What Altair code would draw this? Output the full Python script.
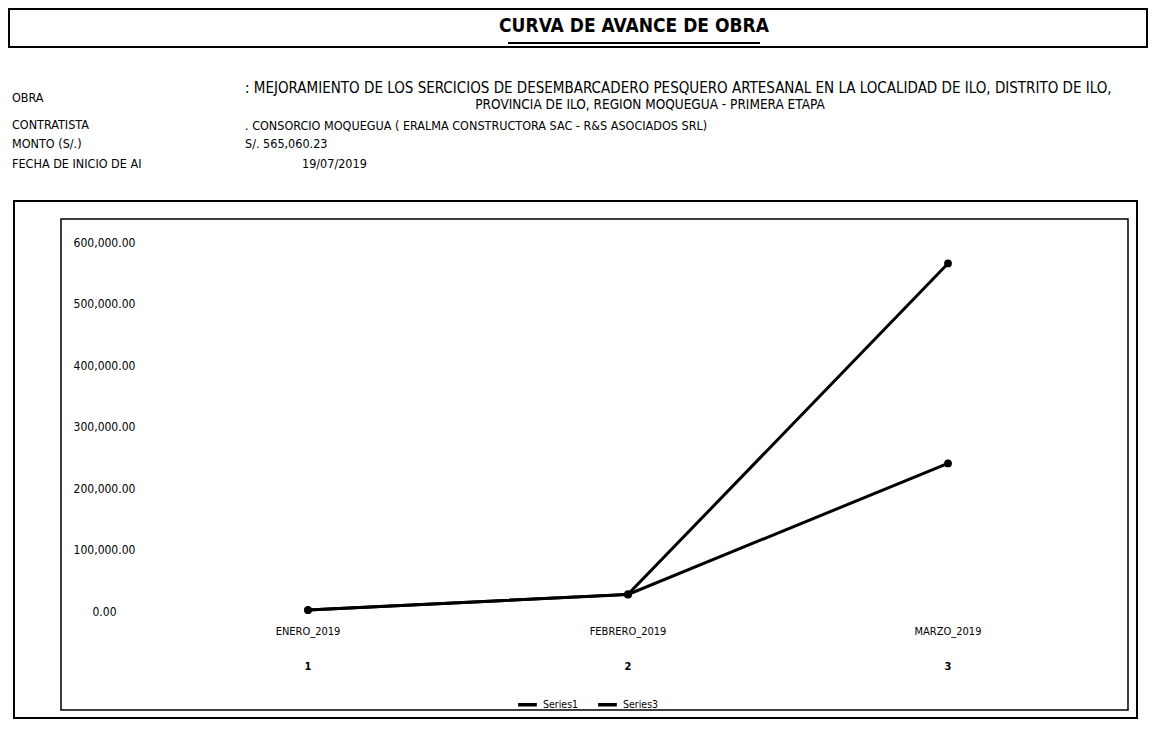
import altair as alt
import pandas as pd

# ---- data ----
meses = ["ENERO_2019", "FEBRERO_2019", "MARZO_2019"]
numeros = ["1", "2", "3"]
series1 = [1500, 27000, 565060.23]
series3 = [1500, 27000, 240000]
serie_names = ["Series1", "Series3"]
y_ticks = [0, 100000, 200000, 300000, 400000, 500000, 600000]

titulo = "CURVA DE AVANCE DE OBRA"
head_labels = ["OBRA", "CONTRATISTA", "MONTO (S/.)", "FECHA DE INICIO DE AI"]
obra_1 = ": MEJORAMIENTO DE LOS SERCICIOS DE DESEMBARCADERO PESQUERO ARTESANAL EN LA LOCALIDAD DE ILO, DISTRITO DE ILO,"
obra_2 = "PROVINCIA DE ILO, REGION MOQUEGUA - PRIMERA ETAPA"
contratista = ". CONSORCIO MOQUEGUA ( ERALMA CONSTRUCTORA SAC - R&S ASOCIADOS SRL)"
monto = "S/. 565,060.23"
fecha = "19/07/2019"

FONT = "Liberation Sans Narrow, DejaVu Sans Condensed, Roboto, sans-serif"
W, H = 960, 369

rows = []
for name, vals in zip(serie_names, [series1, series3]):
    for m, v in zip(meses, vals):
        rows.append({"mes": m, "valor": v, "serie": name})
df = pd.DataFrame(rows)
lab = pd.DataFrame({"mes": meses, "num": numeros})
one = pd.DataFrame({"a": [0]})

xenc = alt.X("mes:N", sort=meses, scale=alt.Scale(type="point", padding=0.5),
             axis=None)

lines = alt.Chart(df).mark_line(
    strokeWidth=3, point=alt.OverlayMarkDef(filled=True, size=60)
).encode(
    x=xenc,
    y=alt.Y("valor:Q", scale=alt.Scale(domain=[0, 600000], nice=False),
            axis=alt.Axis(values=y_ticks, format=",.2f", title=None, domain=False,
                          ticks=False, grid=False, labelAlign="center",
                          labelPadding=44, labelFontSize=12, labelColor="black",
                          labelFont=FONT)),
    color=alt.Color("serie:N", scale=alt.Scale(domain=serie_names, range=["black", "black"]),
                    legend=alt.Legend(title=None, orient="none", legendX=368, legendY=451,
                                      direction="horizontal", symbolType="stroke",
                                      symbolStrokeWidth=3.5, symbolSize=350,
                                      labelFontSize=10.5, labelFont=FONT, labelColor="black",
                                      columnPadding=12)),
)

xlab1 = alt.Chart(lab).mark_text(fontSize=11, font=FONT, color="black").encode(
    x=xenc, y=alt.value(390), text="mes:N")
xlab2 = alt.Chart(lab).mark_text(fontSize=11, font=FONT, color="black", fontWeight="bold").encode(
    x=xenc, y=alt.value(425), text="num:N")

def box(x, x2, y, y2, sw):
    return alt.Chart(one).mark_rect(fill=None, stroke="black", strokeWidth=sw).encode(
        x=alt.value(x), x2=alt.value(x2), y=alt.value(y), y2=alt.value(y2))

def txt(s, x, y, size=13, align="left", weight="normal"):
    return alt.Chart(one).mark_text(text=s, fontSize=size, font=FONT, align=align,
                                    baseline="middle", fontWeight=weight, color="black").encode(
        x=alt.value(x), y=alt.value(y))

title_box = box(-139, 999, -233, -195, 2)
outer = box(-134, 989, -41, 476, 2)
inner = box(-87, 980, -23, 468, 1.5)
underline = alt.Chart(one).mark_rule(color="black", strokeWidth=2).encode(
    x=alt.value(360), x2=alt.value(612), y=alt.value(-199))

header = [
    txt(titulo, 486, -216, size=19, align="center", weight="bold"),
    txt(head_labels[0], -136, -144, size=12.5),
    txt(obra_1, 97, -154, size=15),
    txt(obra_2, 502, -137, size=13.5, align="center"),
    txt(head_labels[1], -136, -117, size=12.5),
    txt(contratista, 97, -116, size=12.5),
    txt(head_labels[2], -136, -98, size=12.5),
    txt(monto, 97, -98, size=12.5),
    txt(head_labels[3], -136, -78, size=12.5),
    txt(fecha, 154, -78, size=12.5),
]

chart = alt.layer(
    title_box, outer, inner, underline, *header, lines, xlab1, xlab2
).properties(
    width=W, height=H,
    autosize=alt.AutoSizeParams(type="none"),
    padding={"left": 140, "top": 234, "right": 40, "bottom": 110},
).configure(background="white").configure_view(stroke=None, strokeWidth=0)

chart.save("out.html", embed_options={"renderer": "svg", "actions": False})
